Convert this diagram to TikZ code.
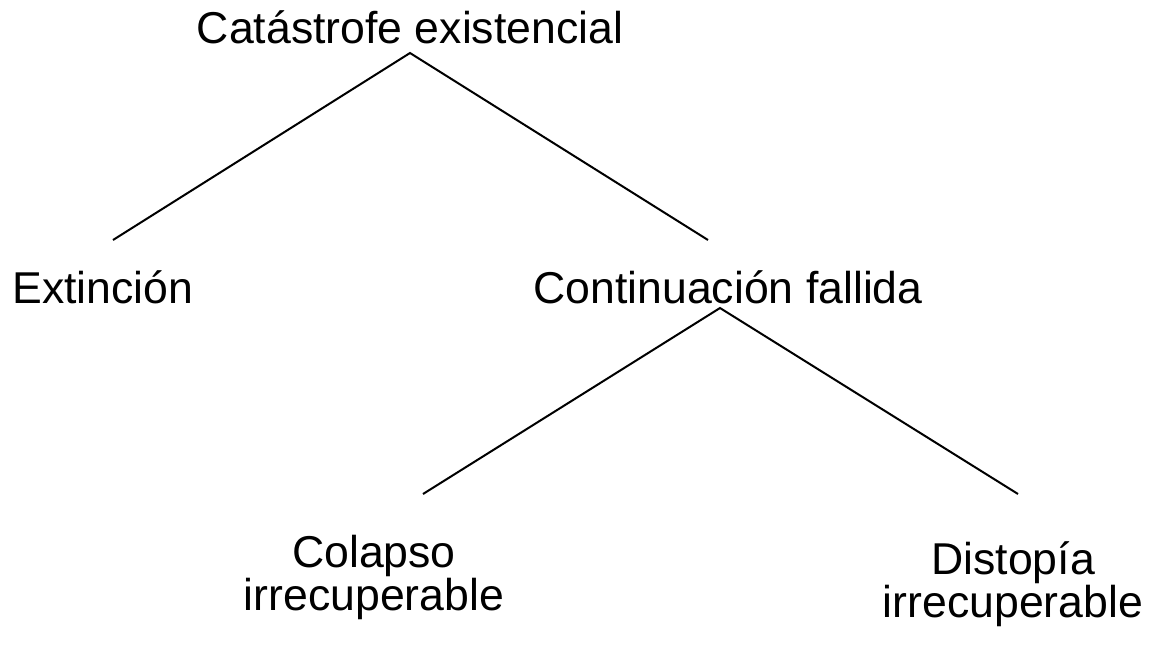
\documentclass[tikz,border=0pt]{standalone}
\usepackage{fontspec}
\setmainfont{Liberation Sans}
\begin{document}
\begin{tikzpicture}[x=1pt,y=-1pt,
  lbl/.style={inner sep=0pt,anchor=base,font=\fontsize{44.6}{43}\selectfont,align=center},
  branch/.style={line width=2pt,black}]
\path[use as bounding box] (0,0) rectangle (1167,646);
\node[lbl] (cat) at (410,43) {Catástrofe existencial};
\node[lbl] (ext) at (103,303) {Extinción};
\node[lbl] (cont) at (728,303) {Continuación fallida};
\node[lbl] (col) at (374,610) {Colapso\\irrecuperable};
\node[lbl] (dis) at (1013,617) {Distopía\\irrecuperable};
\coordinate (catb) at (410,53);
\coordinate (extt) at (113,240);
\coordinate (contt) at (708,240);
\coordinate (contb) at (720,308);
\coordinate (colt) at (423,494);
\coordinate (dist) at (1018,494);
\draw[branch] (extt) -- (catb) -- (contt);
\draw[branch] (colt) -- (contb) -- (dist);
\end{tikzpicture}
\end{document}
